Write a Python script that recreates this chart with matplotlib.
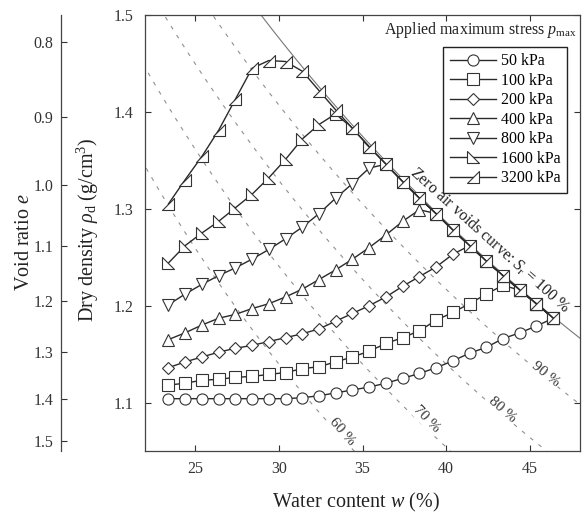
import matplotlib
import numpy as np

matplotlib.use("agg")

import matplotlib.pyplot as plt
from matplotlib.path import Path

plt.rcParams["font.family"] = "Liberation Serif"
plt.rcParams["mathtext.fontset"] = "custom"
plt.rcParams["mathtext.rm"] = "Liberation Serif"
plt.rcParams["mathtext.it"] = "Liberation Serif:italic"

# Data
water_content = [23.4, 24.4, 25.4, 26.4, 27.4, 28.4, 29.4, 30.4, 31.4, 32.4, 33.4, 34.4,
                 35.4, 36.4, 37.4, 38.4, 39.4, 40.4, 41.4, 42.4, 43.4, 44.4, 45.4, 46.4]

rho_50 = [1.104, 1.104, 1.104, 1.104, 1.104, 1.104, 1.104, 1.104, 1.105, 1.107, 1.110, 1.113,
          1.116, 1.120, 1.125, 1.130, 1.136, 1.143, 1.151, 1.157, 1.166, 1.172, 1.179, 1.187]
rho_100 = [1.118, 1.120, 1.123, 1.124, 1.126, 1.127, 1.129, 1.131, 1.135, 1.137, 1.142, 1.147,
           1.153, 1.161, 1.167, 1.174, 1.185, 1.193, 1.202, 1.212, 1.221, 1.216, 1.202, 1.187]
rho_200 = [1.136, 1.142, 1.147, 1.152, 1.156, 1.159, 1.163, 1.167, 1.171, 1.176, 1.184, 1.192,
           1.200, 1.209, 1.220, 1.230, 1.240, 1.253, 1.262, 1.246, 1.231, 1.216, 1.202, 1.187]
rho_400 = [1.165, 1.172, 1.180, 1.187, 1.191, 1.197, 1.202, 1.209, 1.217, 1.227, 1.237, 1.248,
           1.260, 1.273, 1.287, 1.299, 1.295, 1.278, 1.262, 1.246, 1.231, 1.216, 1.202, 1.187]
rho_800 = [1.201, 1.212, 1.222, 1.231, 1.239, 1.248, 1.258, 1.269, 1.281, 1.295, 1.311, 1.326,
           1.342, 1.346, 1.328, 1.311, 1.295, 1.278, 1.262, 1.246, 1.231, 1.216, 1.202, 1.187]
rho_1600 = [1.244, 1.262, 1.275, 1.287, 1.301, 1.315, 1.332, 1.351, 1.372, 1.387, 1.398, 1.383,
            1.364, 1.346, 1.328, 1.311, 1.295, 1.278, 1.262, 1.246, 1.231, 1.216, 1.202, 1.187]
rho_3200 = [1.305, 1.330, 1.354, 1.381, 1.413, 1.445, 1.453, 1.452, 1.442, 1.422, 1.402, 1.383,
            1.364, 1.346, 1.328, 1.311, 1.295, 1.278, 1.262, 1.246, 1.231, 1.216, 1.202, 1.187]

stress_labels = ["50 kPa", "100 kPa", "200 kPa", "400 kPa", "800 kPa", "1600 kPa", "3200 kPa"]
series = [rho_50, rho_100, rho_200, rho_400, rho_800, rho_1600, rho_3200]

# Soil particle density and saturation lines
Gs = 2.65
saturation_dashed = [60, 70, 80, 90]
void_ratio_ticks = [0.8, 0.9, 1.0, 1.1, 1.2, 1.3, 1.4, 1.5]

# right-angled triangle markers
tri_left = Path([(-1, 1), (-1, -1), (1, -1), (-1, 1)], closed=True)
tri_right = Path([(1, 1), (1, -1), (-1, -1), (1, 1)], closed=True)
markers = ["o", "s", "D", "^", "v", tri_left, tri_right]
msizes = [8, 8.5, 6.5, 8, 8, 8.5, 8.5]

fig = plt.figure(figsize=(5.84, 5.22), dpi=100)
ax = fig.add_axes([145 / 584, 71 / 522, 435 / 584, 436 / 522])
ax.set_xlim(22, 48)
ax.set_ylim(1.05, 1.5)

w_line = np.linspace(15, 50, 300)
for sr in saturation_dashed:
    ax.plot(w_line, Gs / (1 + w_line * Gs / sr), color="#909090", lw=0.8,
            linestyle=(0, (3.5, 6)), zorder=1)
ax.plot(w_line, Gs / (1 + w_line * Gs / 100), color="#777777", lw=0.8, zorder=1)

for rho, lab, mk, ms in zip(series, stress_labels, markers, msizes):
    ax.plot(water_content, rho, color="#2a2a2a", lw=1.0, marker=mk, ms=ms,
            mfc="white", mec="#333333", mew=0.8, label=lab, zorder=3)

leg = ax.legend(loc="upper right", bbox_to_anchor=(0.970, 0.927), fontsize=11.5,
                frameon=True, fancybox=False, framealpha=1, edgecolor="#222222",
                handlelength=2.9, handletextpad=0.3, labelspacing=0.22,
                borderpad=0.4, borderaxespad=0)
leg.get_frame().set_linewidth(1.0)

ax.text(0.993, 0.966, r"Applied maximum stress $p_{\rm max}$", transform=ax.transAxes,
        ha="right", va="center", fontsize=11.5, color="#222222")

bbox = dict(facecolor="white", edgecolor="none", pad=0.5)
ax.text(33.8, 1.070, "60 %", rotation=-49, ha="center", va="center", fontsize=11,
        color="#333333", bbox=bbox, zorder=2)
ax.text(38.8, 1.083, "70 %", rotation=-46, ha="center", va="center", fontsize=11,
        color="#333333", bbox=bbox, zorder=2)
ax.text(43.35, 1.093, "80 %", rotation=-41, ha="center", va="center", fontsize=11,
        color="#333333", bbox=bbox, zorder=2)
ax.text(45.97, 1.129, "90 %", rotation=-39, ha="center", va="center", fontsize=11,
        color="#333333", bbox=bbox, zorder=2)
ax.text(42.6, 1.267, r"Zero air voids curve: $S_{\rm r}$ = 100 %", rotation=-42,
        ha="center", va="center", fontsize=11.5, color="#222222", zorder=4)

ax.set_xticks([25, 30, 35, 40, 45])
ax.set_yticks([1.1, 1.2, 1.3, 1.4, 1.5])
ax.tick_params(direction="in", length=4.5, width=0.8, top=True, right=True,
               labelsize=11.5, colors="#333333")
ax.tick_params(axis="x", pad=7)
ax.tick_params(axis="y", pad=8)
for s in ax.spines.values():
    s.set_linewidth(0.9)
    s.set_color("#444444")

# Void ratio axis on the far left
ax_e = fig.add_axes([60.5 / 584, 71 / 522, 0.0001, 436 / 522])
ax_e.set_ylim(ax.get_ylim())
ax_e.patch.set_visible(False)
for s in ["top", "right", "bottom"]:
    ax_e.spines[s].set_visible(False)
ax_e.spines["left"].set_linewidth(0.9)
ax_e.spines["left"].set_color("#444444")
ax_e.set_xticks([])
ax_e.set_yticks([Gs / (1 + e) for e in void_ratio_ticks])
ax_e.set_yticklabels([f"{e:.1f}" for e in void_ratio_ticks])
ax_e.tick_params(axis="y", direction="in", length=4.5, width=0.8, labelsize=11.5,
                 colors="#333333", pad=5)

fig.text(25 / 584, 1 - 242 / 522, "Void ratio $e$", rotation=90, ha="center",
         va="center", fontsize=14.5, color="#222222")
fig.text(88 / 584, 1 - 230 / 522, r"Dry density $\rho_{\rm d}$ (g/cm$^3$)", rotation=90,
         ha="center", va="center", fontsize=14.5, color="#222222")
fig.text(356 / 584, 1 - 502 / 522, "Water content $w$ (%)", ha="center", va="center",
         fontsize=14.5, color="#222222")

fig.savefig("out.png", dpi=100)
